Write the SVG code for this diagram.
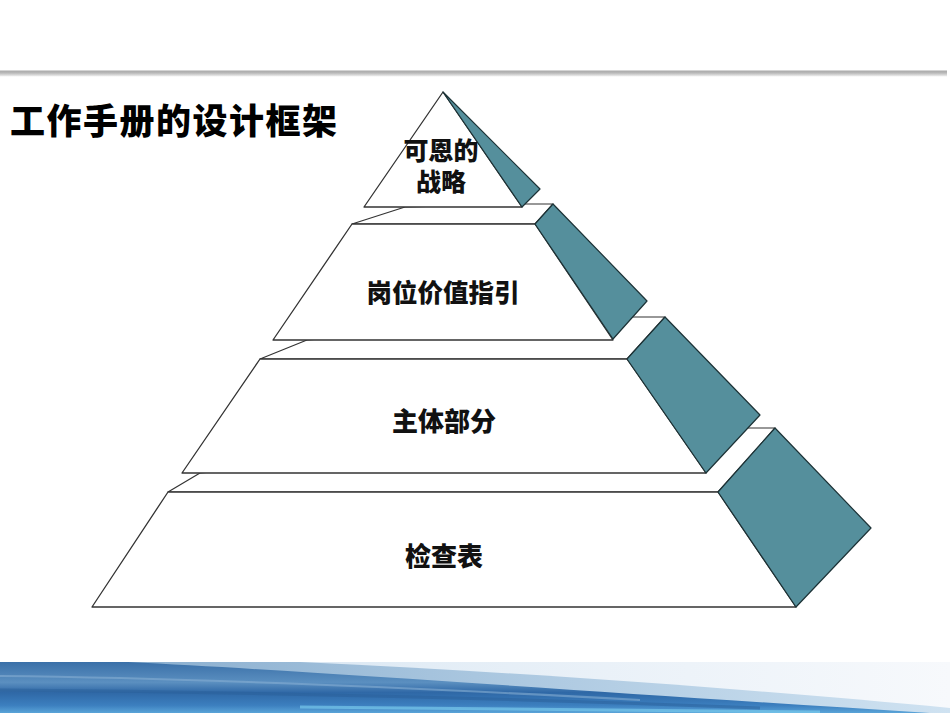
<svg xmlns="http://www.w3.org/2000/svg" width="950" height="713" viewBox="0 0 950 713">
  <defs>
    <style>
      .front { fill: #ffffff; stroke: #333333; stroke-width: 1.3; stroke-linejoin: round; }
      .top { fill: #ffffff; stroke: #333333; stroke-width: 1.2; stroke-linejoin: round; }
      .side { fill: #558f9c; stroke: #1c3236; stroke-width: 1.2; stroke-linejoin: round; }
      .lbl { font-family: "Liberation Sans", "Noto Sans CJK SC", sans-serif; font-weight: 900; fill: #111111; text-anchor: middle; }
      .title { font-family: "Liberation Sans", "Noto Sans CJK SC", sans-serif; font-weight: 900; fill: #000000; }
    </style>
    <linearGradient id="pale" x1="0" y1="0" x2="1" y2="0">
      <stop offset="0" stop-color="#c4d8ea"/>
      <stop offset="0.45" stop-color="#e3edf6"/>
      <stop offset="1" stop-color="#f7f9fc"/>
    </linearGradient>
    <linearGradient id="wedge" x1="0" y1="0" x2="1" y2="0">
      <stop offset="0" stop-color="#7fa6c9"/>
      <stop offset="0.5" stop-color="#a9c6df"/>
      <stop offset="1" stop-color="#cfe2f1"/>
    </linearGradient>
    <linearGradient id="blue" x1="0" y1="0" x2="0" y2="1">
      <stop offset="0" stop-color="#3a70a8"/>
      <stop offset="0.4" stop-color="#5b8fc0"/>
      <stop offset="0.6" stop-color="#2f68a6"/>
      <stop offset="0.85" stop-color="#3c7fbf"/>
      <stop offset="1" stop-color="#5aa4d8"/>
    </linearGradient>
    <linearGradient id="bar" x1="0" y1="0" x2="0" y2="1">
      <stop offset="0" stop-color="#a9a9a9"/>
      <stop offset="0.4" stop-color="#b8b8b8"/>
      <stop offset="1" stop-color="#f2f2f2"/>
    </linearGradient>
  </defs>

  <rect x="0" y="0" width="950" height="713" fill="#ffffff"/>

  <!-- header rule -->
  <g id="header">
    <rect x="0" y="70.5" width="947" height="6" fill="url(#bar)"/>
  </g>

  <!-- title -->
  <g id="title">
    <text class="title" x="10" y="134" font-size="35" letter-spacing="1.5">工作手册的设计框架</text>
  </g>

  <!-- pyramid tiers (drawn bottom to top) -->
  <g id="tier4">
    <polygon class="top" points="200,473 168,492 718,492 775,428 748,428"/>
    <polygon class="front" points="168,492 718,492 796,607 92,607"/>
    <polygon class="side" points="775,428 871,528 796,607 718,492"/>
    <text class="lbl" x="444" y="566" font-size="26">检查表</text>
  </g>

  <g id="tier3">
    <polygon class="top" points="307,340 260,359 627,359 665,317 632,317"/>
    <polygon class="front" points="260,359 627,359 706,473 182,473"/>
    <polygon class="side" points="665,317 760,415 706,473 627,359"/>
    <text class="lbl" x="444" y="431" font-size="26">主体部分</text>
  </g>

  <g id="tier2">
    <polygon class="top" points="405,207 352,224 535,224 553,204 524,204"/>
    <polygon class="front" points="352,224 535,224 613,340 273,340"/>
    <polygon class="side" points="553,204 647,301 613,339 535,224"/>
    <text class="lbl" x="443" y="302" font-size="25.5">岗位价值指引</text>
  </g>

  <g id="tier1">
    <polygon class="front" points="443,92 522,207 364,207"/>
    <polygon class="side" points="443,92 540,189 522,207"/>
    <text class="lbl" x="441" y="160" font-size="25">可恩的</text>
    <text class="lbl" x="441" y="191" font-size="25">战略</text>
  </g>

  <g id="connectors"></g>

  <!-- bottom decorative band -->
  <g id="footer">
    <rect x="0" y="662" width="950" height="51" fill="url(#pale)"/>
    <path d="M0,662 L300,662 C520,672 760,690 950,708 L950,713 L0,713 Z" fill="url(#wedge)"/>
    <path d="M0,662 L128,662 C330,672 620,694 930,713 L0,713 Z" fill="url(#blue)"/>
    <path d="M0,676 C200,678 420,688 640,700" stroke="#86add2" stroke-width="2" fill="none" opacity="0.6"/>
    <path d="M0,690 C250,692 500,698 760,708" stroke="#2a5f99" stroke-width="3" fill="none" opacity="0.5"/>
    <path d="M300,707 C450,708 600,710 820,712" stroke="#7fd0f0" stroke-width="3" fill="none" opacity="0.6"/>
  </g>
</svg>
